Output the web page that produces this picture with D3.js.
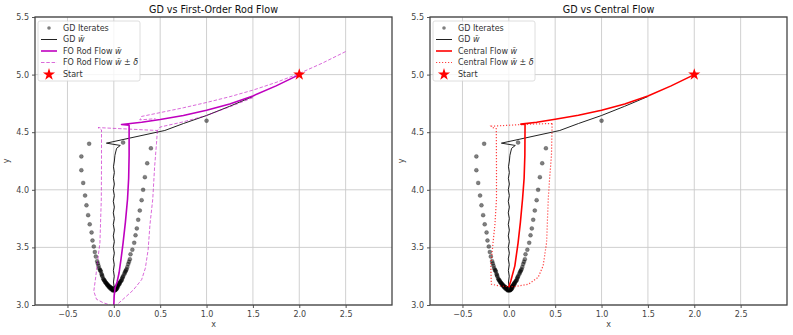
<!DOCTYPE html>
<html lang="en">
<head>
<meta charset="UTF-8">
<title>GD vs flows</title>
<script src="https://d3js.org/d3.v7.min.js"></script>
<style>
  body { margin: 0; background: #fff; }
  text { font-family: "DejaVu Sans", sans-serif; }
</style>
</head>
<body>
<script>
// ticks
var xTicks = [-0.5, 0.0, 0.5, 1.0, 1.5, 2.0, 2.5];
var yTicks = [3.0, 3.5, 4.0, 4.5, 5.0, 5.5];

// GD iterates (x, y)
var gdIterates = [
  [2.0, 5.0], [1.0, 4.60], [0.10, 4.41], [-0.266, 4.40], [0.40, 4.36], [-0.35, 4.29],
  [0.36, 4.23], [-0.35, 4.17], [0.335, 4.11], [-0.33, 4.06], [0.316, 4.0], [-0.31, 3.95],
  [0.30, 3.91], [-0.295, 3.865], [0.28, 3.82], [-0.277, 3.78], [0.263, 3.74], [-0.26, 3.70],
  [0.248, 3.665], [-0.24, 3.63], [0.234, 3.605], [-0.23, 3.56], [0.22, 3.54], [-0.216, 3.507],
  [0.20, 3.48], [-0.205, 3.46], [0.18, 3.44], [-0.194, 3.42], [0.173, 3.397], [-0.18, 3.38],
  [0.164, 3.375], [-0.173, 3.36], [0.155, 3.355], [-0.165, 3.34], [0.146, 3.33], [-0.158, 3.32],
  [0.137, 3.31], [-0.15, 3.305], [0.125, 3.29], [-0.14, 3.29], [0.112, 3.267], [-0.133, 3.27],
  [0.10, 3.25], [-0.124, 3.25], [0.09, 3.23], [-0.115, 3.23], [0.078, 3.21], [-0.105, 3.215],
  [0.065, 3.195], [-0.094, 3.20], [0.052, 3.18], [-0.083, 3.19], [0.04, 3.165], [-0.072, 3.18],
  [0.027, 3.155], [-0.058, 3.168], [0.014, 3.145], [-0.043, 3.157], [0.005, 3.14], [-0.03, 3.15],
  [-0.015, 3.14], [-0.007, 3.143], [0.0, 3.135], [0.01, 3.13], [-0.01, 3.13], [0.02, 3.135],
  [-0.02, 3.135], [0.0, 3.128],
  [0.118, 3.28], [-0.128, 3.26], [0.095, 3.24], [-0.11, 3.222], [0.072, 3.203], [-0.088, 3.195],
  [0.058, 3.188], [-0.077, 3.185], [0.046, 3.172], [-0.064, 3.174], [0.033, 3.16], [-0.05, 3.162],
  [0.022, 3.15], [-0.036, 3.153], [0.03, 3.14], [-0.025, 3.145], [0.015, 3.132], [-0.005, 3.132],
  [0.035, 3.148], [-0.04, 3.145], [0.025, 3.135], [-0.03, 3.138],
  [0.06, 3.18], [-0.068, 3.17], [0.045, 3.158], [-0.052, 3.155], [0.01, 3.125], [-0.012, 3.126],
  [0.085, 3.215], [-0.098, 3.21], [0.13, 3.3], [-0.145, 3.3]
];

// GD running average w-bar
var gdBar = [
  [1.5, 4.81], [1.25, 4.725], [1.0, 4.645], [0.75, 4.575], [0.55, 4.515], [-0.08, 4.405],
  [0.07, 4.385], [0.03, 4.36], [0.012, 4.30], [0.006, 4.25], [-0.004, 4.20], [0.006, 4.15],
  [-0.005, 4.10], [0.006, 4.05], [-0.006, 4.0], [0.006, 3.95], [-0.006, 3.90], [0.006, 3.85],
  [-0.006, 3.80], [0.006, 3.75], [-0.006, 3.70], [0.006, 3.65], [-0.006, 3.60], [0.006, 3.55],
  [-0.006, 3.50], [0.006, 3.45], [-0.006, 3.40], [0.005, 3.35], [-0.005, 3.30], [0.005, 3.25],
  [-0.004, 3.20], [0.003, 3.16], [0.0, 3.135]
];

// first-order rod flow
var foBar = [
  [2.0, 5.0], [1.75, 4.902], [1.5, 4.815], [1.25, 4.745], [1.0, 4.69], [0.75, 4.645],
  [0.5, 4.61], [0.3, 4.587], [0.083, 4.567], [0.165, 4.56], [0.165, 4.30], [0.16, 4.10],
  [0.148, 3.92], [0.125, 3.72], [0.10, 3.54], [0.078, 3.40], [0.057, 3.28], [0.035, 3.20],
  [0.014, 3.15], [0.004, 3.08], [0.0, 3.0], [-0.005, 2.9]
];
var foUpper = [
  [2.5, 5.2], [2.25, 5.1], [2.0, 5.01], [1.75, 4.932], [1.5, 4.865], [1.25, 4.808], [1.0, 4.758],
  [0.75, 4.712], [0.5, 4.67], [0.30, 4.637], [0.28, 4.607], [0.45, 4.617]
];
var foLower = [
  [1.5, 4.8], [1.25, 4.72], [1.0, 4.645], [0.75, 4.59], [0.5, 4.545], [0.47, 4.515],
  [-0.17, 4.54], [-0.133, 4.52], [-0.133, 4.2], [-0.135, 3.92], [-0.15, 3.54], [-0.175, 3.38],
  [-0.194, 3.25], [-0.216, 3.12], [-0.187, 3.05], [-0.115, 3.02], [-0.04, 3.0], [0.0, 2.98]
];
var foRight = [
  [0.47, 4.515], [0.46, 4.4], [0.44, 4.2], [0.42, 3.92], [0.39, 3.7], [0.37, 3.48],
  [0.34, 3.32], [0.30, 3.22], [0.21, 3.13], [0.10, 3.05], [0.03, 3.0], [-0.02, 2.97]
];

// central flow
var cfBar = [
  [2.0, 5.0], [1.75, 4.902], [1.5, 4.815], [1.25, 4.745], [1.0, 4.69], [0.75, 4.647],
  [0.5, 4.612], [0.3, 4.587], [0.13, 4.57], [0.175, 4.567], [0.173, 4.30], [0.165, 4.10],
  [0.148, 3.92], [0.125, 3.72], [0.10, 3.54], [0.065, 3.34], [0.022, 3.21], [0.0, 3.155]
];
var cfLeft = [
  [0.467, 4.575], [0.3, 4.572], [0.155, 4.567], [-0.19, 4.552], [-0.17, 4.54], [-0.135, 4.53],
  [-0.133, 4.2], [-0.133, 3.92], [-0.15, 3.7], [-0.17, 3.54], [-0.194, 3.34], [-0.19, 3.21],
  [-0.187, 3.18], [-0.1, 3.165], [-0.008, 3.16]
];
var cfRight = [
  [0.467, 4.575], [0.46, 4.3], [0.44, 4.1], [0.425, 3.92], [0.407, 3.54], [0.37, 3.34],
  [0.316, 3.24], [0.21, 3.18], [0.065, 3.16], [-0.008, 3.16]
];

var startPt = [2.0, 5.0];

var W = 793, H = 335;
var svg = d3.select("body").append("svg").attr("width", W).attr("height", H);

var magenta = "#bf00bf";
var red = "#ff0000";

var panels = [
  {
    left: 35, title: "GD vs First-Order Rod Flow", color: magenta, id: "c1",
    bar: foBar, bands: [foUpper, foLower, foRight], dash: "3.5,1.8", bandOpacity: 0.65, bandWidth: 0.9,
    labels: ["GD Iterates", "GD ", "FO Rod Flow ", "FO Rod Flow ", "Start"]
  },
  {
    left: 430, title: "GD vs Central Flow", color: red, id: "c2",
    bar: cfBar, bands: [cfLeft, cfRight], dash: "1.2,1.8", bandOpacity: 0.75, bandWidth: 1.2,
    labels: ["GD Iterates", "GD ", "Central Flow ", "Central Flow ", "Start"]
  }
];

var plotTop = 17, plotBottom = 305, pw = 357;

panels.forEach(function (p) {
  var x = d3.scaleLinear().domain([-0.85, 3.0]).range([p.left, p.left + pw]);
  var y = d3.scaleLinear().domain([3.0, 5.5]).range([plotBottom, plotTop]);
  var g = svg.append("g");

  g.append("clipPath").attr("id", p.id).append("rect")
    .attr("x", p.left).attr("y", plotTop).attr("width", pw).attr("height", plotBottom - plotTop);

  // grid
  g.selectAll(".gx").data(xTicks).enter().append("line")
    .attr("x1", function (d) { return x(d); }).attr("x2", function (d) { return x(d); })
    .attr("y1", plotTop).attr("y2", plotBottom)
    .attr("stroke", "#cbcbcb").attr("stroke-width", 0.9);
  g.selectAll(".gy").data(yTicks).enter().append("line")
    .attr("y1", function (d) { return y(d); }).attr("y2", function (d) { return y(d); })
    .attr("x1", p.left).attr("x2", p.left + pw)
    .attr("stroke", "#cbcbcb").attr("stroke-width", 0.9);

  // axes
  var xa = g.append("g").attr("transform", "translate(0," + plotBottom + ")")
    .call(d3.axisBottom(x).tickValues(xTicks).tickSize(3).tickPadding(3)
      .tickFormat(function (d) { return d3.format(".1f")(d).replace("-", "\u2212"); }));
  var ya = g.append("g").attr("transform", "translate(" + p.left + ",0)")
    .call(d3.axisLeft(y).tickValues(yTicks).tickSize(3).tickPadding(3).tickFormat(d3.format(".1f")));
  [xa, ya].forEach(function (a) {
    a.select(".domain").remove();
    a.selectAll("line").attr("stroke", "#555");
    a.selectAll("text").attr("fill", "#444").attr("font-size", "8px")
      .style("font-family", "DejaVu Sans");
  });

  var plot = g.append("g").attr("clip-path", "url(#" + p.id + ")");
  var line = d3.line().x(function (d) { return x(d[0]); }).y(function (d) { return y(d[1]); });

  plot.selectAll("circle").data(gdIterates).enter().append("circle")
    .attr("cx", function (d) { return x(d[0]); })
    .attr("cy", function (d) { return y(d[1]); })
    .attr("r", 2).attr("fill", "#000").attr("fill-opacity", 0.5)
    .attr("stroke", "#000").attr("stroke-opacity", 0.35).attr("stroke-width", 0.6);

  plot.append("path").attr("d", line(gdBar)).attr("fill", "none")
    .attr("stroke", "#222").attr("stroke-width", 1).attr("stroke-linejoin", "round");

  plot.append("path").attr("d", line(p.bar)).attr("fill", "none")
    .attr("stroke", p.color).attr("stroke-width", 1.6).attr("stroke-linejoin", "round");

  p.bands.forEach(function (b) {
    plot.append("path").attr("d", line(b)).attr("fill", "none")
      .attr("stroke", p.color).attr("stroke-opacity", p.bandOpacity)
      .attr("stroke-width", p.bandWidth).attr("stroke-dasharray", p.dash);
  });

  var star = d3.symbol().type(d3.symbolStar).size(46);
  g.append("path").attr("d", star())
    .attr("transform", "translate(" + x(startPt[0]) + "," + y(startPt[1]) + ")")
    .attr("fill", red);

  // frame
  g.append("rect").attr("x", p.left).attr("y", plotTop).attr("width", pw).attr("height", plotBottom - plotTop)
    .attr("fill", "none").attr("stroke", "#444").attr("stroke-width", 1.3);

  // title and labels
  g.append("text").attr("x", p.left + pw / 2).attr("y", 12.5).attr("text-anchor", "middle")
    .attr("font-size", "9.6px").attr("fill", "#111").text(p.title);
  g.append("text").attr("x", p.left + pw / 2).attr("y", 327).attr("text-anchor", "middle")
    .attr("font-size", "8px").attr("fill", "#444").text("x");
  g.append("text").attr("transform", "translate(" + (p.left - 26) + "," + ((plotTop + plotBottom) / 2) + ") rotate(-90)")
    .attr("text-anchor", "middle").attr("font-size", "8px").attr("fill", "#444").text("y");

  // legend
  var lx = p.left + 3, ly = 21;
  var lg = g.append("g");
  lg.append("rect").attr("x", lx).attr("y", ly).attr("width", 102).attr("height", 60)
    .attr("rx", 2).attr("fill", "#fff").attr("fill-opacity", 0.8)
    .attr("stroke", "#d6d6d6").attr("stroke-width", 0.8);
  var rows = [28, 39.5, 51, 62.5, 74.5];
  p.labels.forEach(function (lab, i) {
    var cy = rows[i];
    if (i === 0) {
      lg.append("circle").attr("cx", lx + 11).attr("cy", cy).attr("r", 1.8)
        .attr("fill", "#000").attr("fill-opacity", 0.5);
    } else if (i === 1) {
      lg.append("line").attr("x1", lx + 3).attr("x2", lx + 19).attr("y1", cy).attr("y2", cy)
        .attr("stroke", "#222").attr("stroke-width", 1);
    } else if (i === 2) {
      lg.append("line").attr("x1", lx + 3).attr("x2", lx + 19).attr("y1", cy).attr("y2", cy)
        .attr("stroke", p.color).attr("stroke-width", 1.6);
    } else if (i === 3) {
      lg.append("line").attr("x1", lx + 3).attr("x2", lx + 19).attr("y1", cy).attr("y2", cy)
        .attr("stroke", p.color).attr("stroke-opacity", p.bandOpacity)
        .attr("stroke-width", p.bandWidth).attr("stroke-dasharray", p.dash);
    } else {
      lg.append("path").attr("d", star())
        .attr("transform", "translate(" + (lx + 11) + "," + cy + ")").attr("fill", red);
    }
    var t = lg.append("text").attr("x", lx + 25).attr("y", cy + 2.8)
      .attr("font-size", "8px").attr("fill", "#333");
    t.append("tspan").text(lab);
    if (i >= 1 && i <= 3) {
      t.append("tspan").attr("font-style", "italic").text("w\u0304");
    }
    if (i === 3) {
      t.append("tspan").text(" \u00b1 ");
      t.append("tspan").attr("font-style", "italic").text("\u03b4");
    }
  });
});
</script>
</body>
</html>
